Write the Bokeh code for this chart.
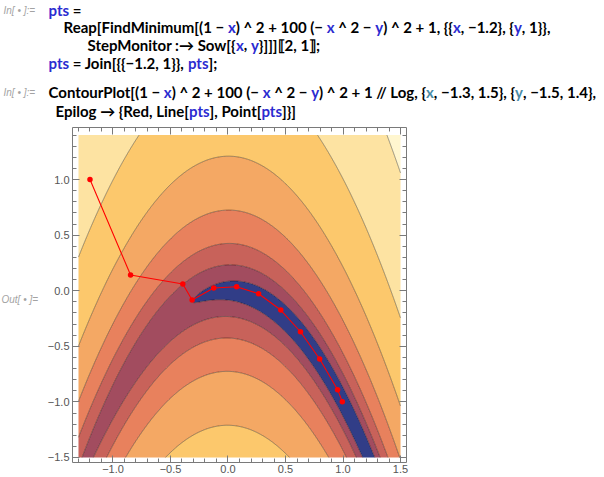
import numpy as np
from bokeh.plotting import figure
from bokeh.layouts import column, row
from bokeh.models import (Range1d, LinearAxis, SingleIntervalTicker, CustomJSTickFormatter,
                          ColumnDataSource, CustomJSTransform)
from bokeh.transform import transform
from bokeh.core.properties import value
from bokeh.embed import file_html
from bokeh.resources import INLINE

# ---- data ----
x_lo, x_hi = -1.3, 1.5
y_lo, y_hi = -1.5, 1.4
levels = [-0.1, 1, 2, 3, 4, 5, 6, 7, 8]
band_colors = ["#313d87", "#a24c5f", "#c8625a", "#e8815d", "#f4a864",
               "#fcc86c", "#fde3a2", "#fff6cf"]
pts_x = [-1.2, -0.847, -0.393, -0.312, -0.124, 0.075, 0.266, 0.459, 0.630, 0.797, 0.953, 0.994]
pts_y = [1.0, 0.141, 0.060, -0.084, 0.024, 0.036, -0.027, -0.174, -0.369, -0.614, -0.890, -0.998]
tick_step = 0.5

# the plotted function log((1-x)^2 + 100(-x^2-y)^2 + 1) sampled on a grid
gx = np.linspace(x_lo, x_hi, 421)
gy = np.linspace(y_lo, y_hi, 436)
GX, GY = np.meshgrid(gx, gy)
GZ = np.log((1 - GX) ** 2 + 100 * (-GX ** 2 - GY) ** 2 + 1)

# ---- layout sizes ----
PAGE_W = 604
TOP_H = 120
BOT_H = 357
OUT_W = 44
PW = PAGE_W - OUT_W
FL, FT, FW, FH = 27, 7, 335, 335

# ---- contour plot ----
p = figure(width=PW, height=BOT_H, output_backend="svg", toolbar_location=None,
           x_range=Range1d(x_lo - 0.052, x_hi + 0.052),
           y_range=Range1d(y_lo - 0.045, y_hi + 0.068),
           x_axis_type=None, y_axis_type=None,
           min_border_left=FL, min_border_right=PW - FL - FW,
           min_border_top=FT, min_border_bottom=BOT_H - FT - FH)
p.outline_line_color = None
p.background_fill_color = "white"
p.border_fill_color = "white"

p.contour(gx, gy, GZ, levels, fill_color=band_colors,
          line_color="#000000", line_alpha=0.42, line_width=0.9)

p.line(pts_x, pts_y, line_color="#ff0000", line_width=1.1)
p.scatter(pts_x, pts_y, size=5.5, fill_color="#ff0000", line_color=None)


def make_axis(show, standoff=2):
    if show:
        fmt = CustomJSTickFormatter(code="return tick.toFixed(1).replace('-', '\u2212');")
    else:
        fmt = CustomJSTickFormatter(code="return '';")
    ax = LinearAxis(ticker=SingleIntervalTicker(interval=tick_step, num_minor_ticks=5), formatter=fmt)
    ax.axis_line_color = "#7a7a7a"
    ax.major_tick_line_color = "#7a7a7a"
    ax.minor_tick_line_color = "#7a7a7a"
    ax.major_tick_in = 7
    ax.major_tick_out = 0
    ax.minor_tick_in = 4
    ax.minor_tick_out = 0
    ax.major_label_text_font = "Liberation Sans"
    ax.major_label_text_font_size = "11px" if show else "0px"
    ax.major_label_text_color = "#555555"
    ax.major_label_standoff = standoff if show else 0
    return ax


p.add_layout(make_axis(True, 2), "below")
p.add_layout(make_axis(True, 3), "left")
p.add_layout(make_axis(False), "above")
p.add_layout(make_axis(False), "right")

# ---- notebook text ----
BLK, BLU, TEAL, GRY = "#000000", "#2b2bd0", "#4a8ba5", "#a3a3a3"
FS = 15
M = "\u2212"

code_lines = [
    ([("pts", BLU), (" =", BLK)], 48, 9.5),
    ([("Reap[FindMinimum[(1 " + M + " ", BLK), ("x", BLU), (") ^ 2 + 100 (" + M + " ", BLK),
      ("x", BLU), (" ^ 2 " + M + " ", BLK), ("y", BLU), (") ^ 2 + 1, {{", BLK), ("x", BLU),
      (", " + M + "1.2}, {", BLK), ("y", BLU), (", 1}},", BLK)], 63, 26),
    ([("StepMonitor :\u2192 Sow[{", BLK), ("x", BLU), (", ", BLK), ("y", BLU),
      ("}]]]\u27e62, 1\u27e7;", BLK)], 87, 44),
    ([("pts", BLU), (" = Join[{{" + M + "1.2, 1}}, ", BLK), ("pts", BLU), ("];", BLK)], 48, 62.5),
    ([("ContourPlot[(1 " + M + " ", BLK), ("x", BLU), (") ^ 2 + 100 (" + M + " ", BLK),
      ("x", BLU), (" ^ 2 " + M + " ", BLK), ("y", BLU), (") ^ 2 + 1 // Log, {", BLK),
      ("x", TEAL), (", " + M + "1.3, 1.5}, {", BLK), ("y", TEAL),
      (", " + M + "1.5, 1.4},", BLK)], 48, 91.5),
    ([("Epilog \u2192 {Red, Line[", BLK), ("pts", BLU), ("], Point[", BLK), ("pts", BLU),
      ("]}]", BLK)], 55, 110),
]
prompt_labels = ["In[ \u2022 ]:=", "In[ \u2022 ]:="]
prompt_x = [3, 3]
prompt_y = [9.5, 91.5]

tx, ty, tt, tc, tfirst, tlead = [], [], [], [], [], []
for tokens, x0, yc in code_lines:
    for k, (txt, col) in enumerate(tokens):
        body = txt.lstrip(' ')
        tx.append(x0); ty.append(yc); tt.append(body.rstrip(' ')); tc.append(col)
        tfirst.append(1 if k == 0 else 0)
        tlead.append((len(txt) - len(body)) + (len(body) - len(body.rstrip(' '))) * 0)
# trailing spaces of a token become leading gap of the next token
for i in range(len(tt)):
    pass
src_code = ColumnDataSource(dict(x=tx, y=ty, text=tt, color=tc, first=tfirst, lead=tlead,
                                 trail=[0] * len(tt)))
# record trailing spaces
idx = 0
for tokens, x0, yc in code_lines:
    for txt, col in tokens:
        body = txt.lstrip(' ')
        src_code.data["trail"][idx] = len(body) - len(body.rstrip(' '))
        idx += 1

flow = CustomJSTransform(args=dict(src=src_code, font=f"bold {FS}px Lato"), v_func="""
const d = src.data;
const ctx = document.createElement('canvas').getContext('2d');
ctx.font = font;
const sp = ctx.measureText(' ').width;
const out = new Array(xs.length);
let cur = 0;
for (let i = 0; i < xs.length; i++) {
  if (d.first[i] == 1) { cur = xs[i]; }
  cur += d.lead[i] * sp;
  out[i] = cur;
  cur += ctx.measureText(d.text[i]).width + d.trail[i] * sp;
}
return out;
""")

t = figure(width=PAGE_W, height=TOP_H, output_backend="svg", toolbar_location=None,
           x_range=Range1d(0, PAGE_W), y_range=Range1d(TOP_H, 0),
           x_axis_type=None, y_axis_type=None, min_border=0)
t.outline_line_color = None
t.background_fill_color = "white"
t.border_fill_color = "white"
t.text(x=transform("x", flow), y="y", text="text", text_color="color", source=src_code,
       text_font=value("Lato"), text_font_style=value("bold"), text_font_size=value(f"{FS}px"),
       text_baseline=value("middle"), text_align=value("left"))
t.text(x=prompt_x, y=prompt_y, text=prompt_labels, text_color=GRY,
       text_font=value("Liberation Sans"), text_font_style=value("italic"),
       text_font_size=value("10px"), text_baseline=value("middle"), text_align=value("left"))

o = figure(width=OUT_W, height=BOT_H, output_backend="svg", toolbar_location=None,
           x_range=Range1d(0, OUT_W), y_range=Range1d(BOT_H, 0),
           x_axis_type=None, y_axis_type=None, min_border=0)
o.outline_line_color = None
o.background_fill_color = "white"
o.border_fill_color = "white"
o.text(x=[1], y=[303 - TOP_H], text=["Out[ \u2022 ]="], text_color=GRY,
       text_font=value("Liberation Sans"), text_font_style=value("italic"),
       text_font_size=value("10px"), text_baseline=value("middle"), text_align=value("left"))

layout = column(t, row(o, p))
open("out.html", "w").write(file_html(layout, INLINE))
